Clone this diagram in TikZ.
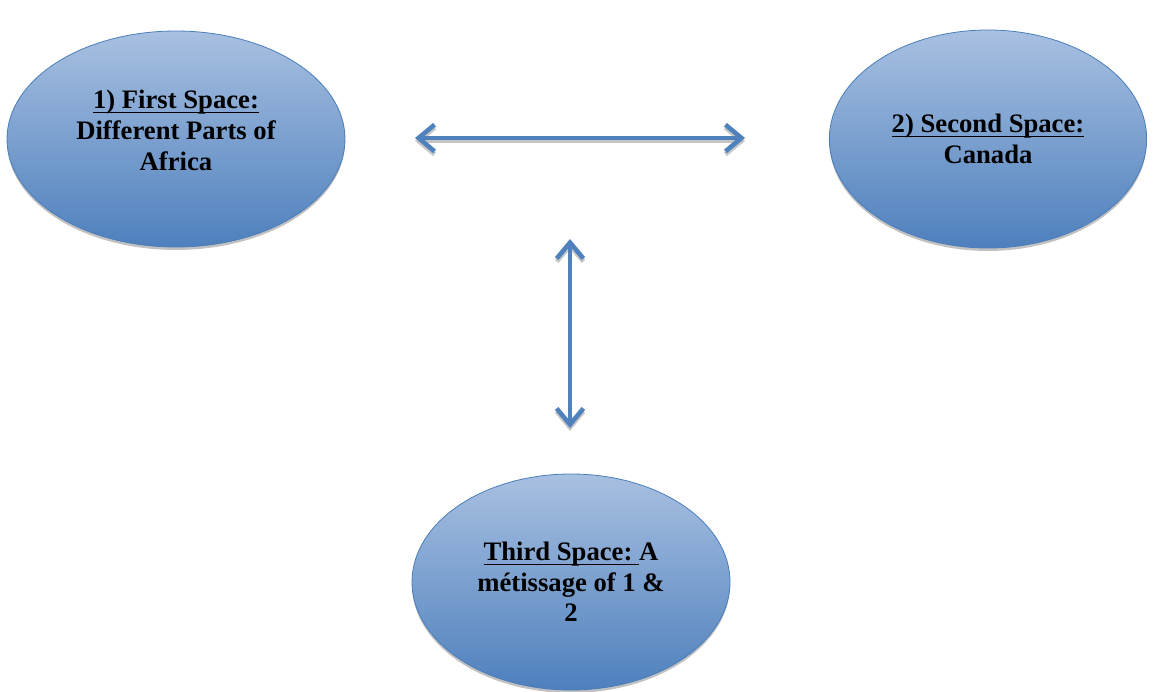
\documentclass[tikz,border=0pt]{standalone}
\usepackage{amsmath}
\usepackage{fontspec}
\setmainfont{Liberation Serif}
\usetikzlibrary{%
  arrows.meta,%
  shapes.geometric,%
  shadows,%
  positioning}

\definecolor{spacetop}{RGB}{168,192,225}
\definecolor{spacebottom}{RGB}{78,128,189}
\definecolor{spaceline}{RGB}{74,126,187}
\definecolor{linkblue}{RGB}{79,129,189}

\newcommand{\spaceul}[1]{\underline{\smash[b]{#1}}}

\begin{document}
\begin{tikzpicture}
  [x=0.75pt,y=-0.75pt,
   space/.style={ellipse,draw=spaceline,line width=0.6pt,top color=spacetop,bottom color=spacebottom,
     drop shadow={shadow xshift=0pt,shadow yshift=-2.2pt,fill=gray!70,opacity=.7},
     font=\bfseries\fontsize{20}{23}\selectfont,align=center,inner sep=0pt},
   link tips/.style={line width=3.4pt,{Straight Barb[length=12pt,width=20pt]}-{Straight Barb[length=12pt,width=20pt]}},
   link/.style={link tips,draw=linkblue},
   link shadow/.style={link tips,draw=gray!45,transform canvas={yshift=-2.2pt}}]

  \useasboundingbox (0,0) rectangle (1157,692);

  % the three spaces
  \node [space,minimum width=253.5pt,minimum height=162pt] (first) at (176,139)
    {\spaceul{1) First Space:}\\Different Parts of\\Africa\\[-10pt]\mbox{}};
  \node [space,minimum width=238pt,minimum height=163.5pt] (second) at (988,139)
    {\spaceul{2) Second Space:}\\Canada};
  \node [space,minimum width=238.5pt,minimum height=162pt] (third) at (571,582)
    {\spaceul{Third Space:\ }A\\m\'etissage of 1 \&\\2};

  % ends of the two double arrows
  \coordinate (west)  at (415,138);
  \coordinate (east)  at (745,138);
  \coordinate (upper) at (570,239);
  \coordinate (lower) at (570,428);

  \draw [link shadow] (west) -- (east);
  \draw [link shadow] (upper) -- (lower);
  \draw [link] (west) -- (east);
  \draw [link] (upper) -- (lower);

\end{tikzpicture}
\end{document}
